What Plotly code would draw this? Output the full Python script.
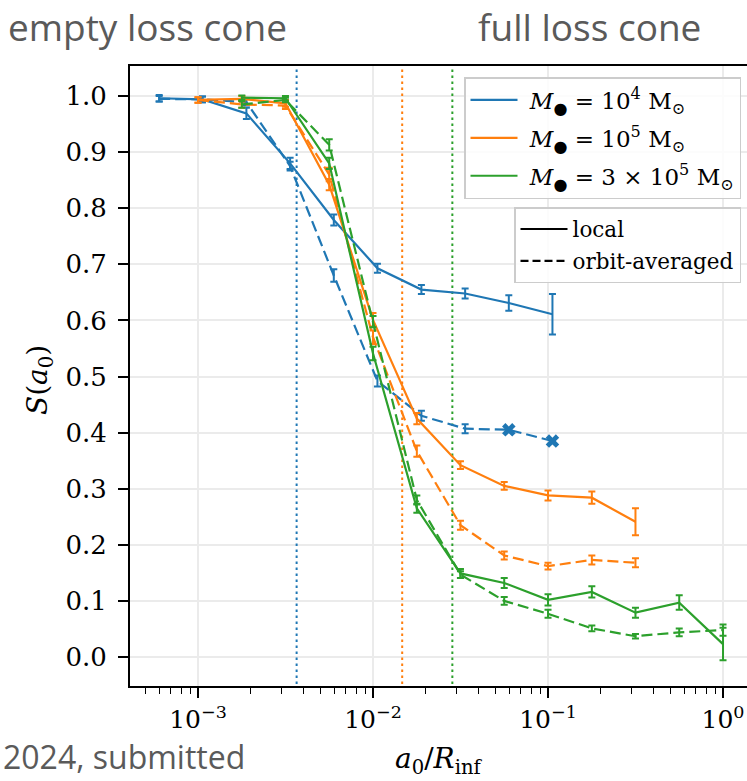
import numpy as np
import plotly.graph_objects as go

# Semi-major axis grid (a0 / R_inf) for each black-hole mass
a_1e4 = [6.0e-4, 1.06e-3, 1.89e-3, 3.36e-3, 5.97e-3, 1.06e-2, 1.89e-2, 3.36e-2, 5.97e-2, 0.106]
a_1e5 = [1.0e-3, 1.78e-3, 3.16e-3, 5.62e-3, 1.0e-2, 1.78e-2, 3.16e-2, 5.62e-2, 0.1, 0.178, 0.316]
a_3e5 = [1.78e-3, 3.16e-3, 5.62e-3, 1.0e-2, 1.78e-2, 3.16e-2, 5.62e-2, 0.1, 0.178, 0.316, 0.562, 1.0]

# Survival fraction S(a0): local treatment
S_loc_1e4 = [0.996, 0.994, 0.969, 0.880, 0.779, 0.693, 0.655, 0.648, 0.631, 0.611]
S_loc_1e4_err = [0.006, 0.005, 0.010, 0.010, 0.010, 0.008, 0.008, 0.009, 0.014, 0.036]
S_loc_1e5 = [0.993, 0.995, 0.987, 0.842, 0.601, 0.425, 0.342, 0.305, 0.288, 0.284, 0.241]
S_loc_1e5_err = [0.005, 0.005, 0.006, 0.010, 0.012, 0.010, 0.007, 0.007, 0.009, 0.011, 0.024]
S_loc_3e5 = [0.997, 0.996, 0.880, 0.541, 0.265, 0.149, 0.132, 0.102, 0.116, 0.079, 0.097, 0.023]
S_loc_3e5_err = [0.004, 0.004, 0.010, 0.012, 0.008, 0.008, 0.009, 0.010, 0.010, 0.009, 0.013, 0.029]

# Survival fraction S(a0): orbit-averaged treatment
S_oa_1e4 = [0.995, 0.994, 0.989, 0.875, 0.680, 0.492, 0.430, 0.407, 0.405, 0.385]
S_oa_1e4_err = [0.005, 0.005, 0.006, 0.008, 0.011, 0.010, 0.009, 0.008, 0.0, 0.0]
S_oa_1e5 = [0.993, 0.985, 0.983, 0.860, 0.570, 0.367, 0.235, 0.181, 0.162, 0.173, 0.168]
S_oa_1e5_err = [0.005, 0.006, 0.006, 0.012, 0.012, 0.010, 0.008, 0.007, 0.006, 0.008, 0.008]
S_oa_3e5 = [0.985, 0.993, 0.913, 0.598, 0.280, 0.147, 0.100, 0.077, 0.051, 0.037, 0.044, 0.048]
S_oa_3e5_err = [0.006, 0.004, 0.010, 0.010, 0.008, 0.006, 0.007, 0.007, 0.005, 0.004, 0.007, 0.010]

# Critical radii separating empty and full loss-cone regimes
a_crit = [3.66e-3, 1.468e-2, 2.84e-2]

colors = ["#1f77b4", "#ff7f0e", "#2ca02c"]
mass_labels = [
    "\u00a0<i>M</i><sub>●</sub> = 10<sup>4</sup> M<sub>⊙</sub>",
    "\u00a0<i>M</i><sub>●</sub> = 10<sup>5</sup> M<sub>⊙</sub>",
    "\u00a0<i>M</i><sub>●</sub> = 3 × 10<sup>5</sup> M<sub>⊙</sub>",
]
y_ticks = [round(0.1 * i, 1) for i in range(11)]
x_ticks = [1e-3, 1e-2, 1e-1, 1e0]
x_tick_text = ["10<sup>−3</sup>", "10<sup>−2</sup>", "10<sup>−1</sup>", "10<sup>0</sup>"]
x_minor = [m * 10.0 ** e for e in range(-4, 1) for m in range(2, 10)]

SERIF = "DejaVu Serif"
DASH = "11px,5px"
LW = 2.2

fig = go.Figure()

# vertical reference lines
for a, c in zip(a_crit, colors):
    fig.add_trace(go.Scatter(x=[a, a], y=[-1, 2], mode="lines",
                             line=dict(color=c, width=2, dash="2.5px,3.5px"),
                             showlegend=False, hoverinfo="skip"))

series = [
    (a_1e4, S_loc_1e4, S_loc_1e4_err, S_oa_1e4, S_oa_1e4_err),
    (a_1e5, S_loc_1e5, S_loc_1e5_err, S_oa_1e5, S_oa_1e5_err),
    (a_3e5, S_loc_3e5, S_loc_3e5_err, S_oa_3e5, S_oa_3e5_err),
]

for (a, sl, sle, so, soe), c in zip(series, colors):
    fig.add_trace(go.Scatter(x=a, y=sl, mode="lines", line=dict(color=c, width=LW),
                             error_y=dict(type="data", array=sle, color=c, thickness=2, width=3.5),
                             showlegend=False))
    fig.add_trace(go.Scatter(x=a, y=so, mode="lines", line=dict(color=c, width=LW, dash=DASH),
                             error_y=dict(type="data", array=soe, color=c, thickness=2, width=3.5),
                             showlegend=False))

# orbit-averaged points for 10^4 Msun without reliable error estimate
fig.add_trace(go.Scatter(x=a_1e4[-2:], y=S_oa_1e4[-2:], mode="markers",
                         marker=dict(symbol="x", size=12, color=colors[0], line=dict(width=0)),
                         showlegend=False))

# legend entries: mass
for i, (c, lab) in enumerate(zip(colors, mass_labels)):
    fig.add_trace(go.Scatter(x=[None], y=[None], mode="lines", line=dict(color=c, width=LW),
                             name=lab, legend="legend", legendgroup=f"m{i}"))
# legend entries: treatment
fig.add_trace(go.Scatter(x=[None], y=[None], mode="lines", line=dict(color="black", width=LW),
                         name="local", legend="legend2", legendgroup="loc"))
fig.add_trace(go.Scatter(x=[None], y=[None], mode="lines",
                         line=dict(color="black", width=LW, dash="8px,4px"),
                         name="orbit-averaged", legend="legend2", legendgroup="oa"))

W, H = 747, 781
L, R, T, B = 130, 0, 66, 95
pw, ph = W - L - R, H - T - B


def px(x):
    return (x - L) / pw


def py(y):
    return (H - B - y) / ph


grid = "#ebebeb"
legend_style = dict(xanchor="right", yanchor="top", traceorder="grouped",
                    bgcolor="rgba(255,255,255,0.85)", bordercolor="#cccccc", borderwidth=1.5,
                    itemwidth=47)
fig.update_layout(
    width=W, height=H,
    margin=dict(l=L, r=R, t=T, b=B, autoexpand=False),
    paper_bgcolor="white", plot_bgcolor="white",
    font=dict(family=SERIF, size=25, color="black"),
    xaxis=dict(type="log", range=[-3.3886, 0.137],
               tickvals=x_ticks, ticktext=x_tick_text,
               ticks="outside", ticklen=10, tickwidth=1.8, tickcolor="black",
               showline=True, linecolor="black", linewidth=2, mirror=True,
               showgrid=True, gridcolor=grid, gridwidth=1.5, zeroline=False,
               tickfont=dict(family=SERIF, size=25),
               minor=dict(tickvals=x_minor, ticks="outside", ticklen=6, tickwidth=1.4,
                          tickcolor="black", showgrid=False)),
    yaxis=dict(range=[-0.0517, 1.0535], tickvals=y_ticks,
               ticktext=[f"{v:.1f}" for v in y_ticks],
               ticks="outside", ticklen=10, tickwidth=1.8, tickcolor="black",
               ticklabelstandoff=6,
               showline=True, linecolor="black", linewidth=2, mirror=False,
               showgrid=True, gridcolor=grid, gridwidth=1.5, zeroline=False,
               tickfont=dict(family=SERIF, size=26)),
    legend=dict(x=px(741), y=py(77), tracegroupgap=5,
                font=dict(family=SERIF, size=23), **legend_style),
    legend2=dict(x=px(741), y=py(207), tracegroupgap=1,
                 font=dict(family=SERIF, size=21.5), **legend_style),
)

sans = dict(family="Open Sans", size=37, color="#5a5a5a")
fig.add_annotation(text="empty loss cone", xref="paper", yref="paper", x=px(6), y=py(27),
                   xanchor="left", yanchor="middle", showarrow=False, font=sans)
fig.add_annotation(text="full loss cone", xref="paper", yref="paper", x=px(476), y=py(27),
                   xanchor="left", yanchor="middle", showarrow=False, font=sans)
fig.add_annotation(text="2024, submitted", xref="paper", yref="paper", x=px(1), y=py(780),
                   xanchor="left", yanchor="bottom", showarrow=False,
                   font=dict(family="Open Sans", size=32, color="#5a5a5a"))

# axis titles
fig.add_annotation(text="<i>a</i><sub>0</sub>/<i>R</i><sub>inf</sub>", xref="paper", yref="paper",
                   x=px(439), y=py(760), xanchor="center", yanchor="middle", showarrow=False,
                   font=dict(family=SERIF, size=28))
fig.add_annotation(text="<i>S</i>(<i>a</i><sub>0</sub>)", xref="paper", yref="paper",
                   x=px(39), y=py(380), xanchor="center", yanchor="middle", showarrow=False,
                   textangle=-90, font=dict(family=SERIF, size=28))

fig.write_html("out.html")
